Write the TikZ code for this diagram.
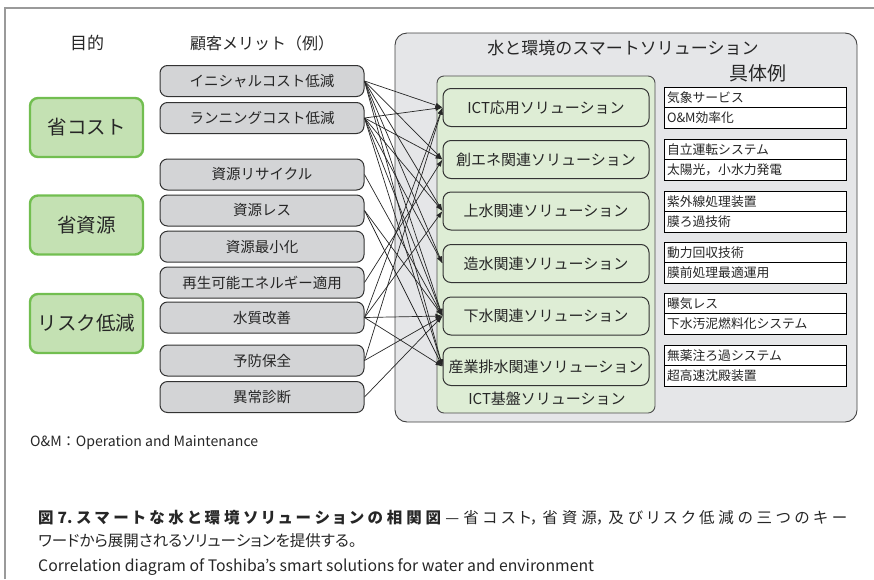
\documentclass[tikz,border=0pt]{standalone}
\usepackage{fontspec}
\setmainfont{Noto Sans CJK JP}
\newfontfamily\capfont{Noto Sans CJK JP}[RawFeature=+palt]
\usetikzlibrary{arrows.meta}
\definecolor{goalgreen}{HTML}{72BE50}
\definecolor{goalfill}{HTML}{C4E1B3}
\definecolor{meritfill}{HTML}{D3D4D6}
\definecolor{bigfill}{HTML}{E5E6E8}
\definecolor{solfill}{HTML}{DEEDD5}
\definecolor{txt}{HTML}{262626}
\definecolor{framegray}{HTML}{9A9A9A}
\tikzset{
  goal/.style={draw=goalgreen, line width=2.4pt, fill=goalfill, rounded corners=8pt,
    minimum width=113pt, minimum height=59pt, inner sep=0pt, text=txt,
    font=\fontsize{19.5}{22}\selectfont},
  merit/.style={draw=black!80, line width=1pt, fill=meritfill, rounded corners=7.5pt,
    minimum width=204pt, minimum height=31pt, inner sep=0pt, text=txt,
    font=\fontsize{14.5}{16}\selectfont},
  sol/.style={draw=black!80, line width=1pt, fill=solfill, rounded corners=8pt,
    minimum width=206pt, minimum height=38pt, inner sep=0pt, text=txt,
    font=\fontsize{15}{17}\selectfont},
  exbox/.style={draw=black, line width=0.9pt, fill=white, minimum width=182pt,
    minimum height=20.5pt, text width=176pt, align=left, inner xsep=3pt, inner ysep=0pt,
    text=txt, font=\fontsize{12.8}{14}\selectfont},
  lbl/.style={inner sep=0pt, text=txt},
  link/.style={draw=black!85, line width=0.7pt, -{Latex[length=7pt,width=5pt]}},
}
\begin{document}
\begin{tikzpicture}[x=1pt,y=-1pt]
\useasboundingbox (0,0) rectangle (874,579);
% frame
\draw[framegray, line width=1.2pt] (5,579) -- (5,8) -- (874,8);
% column headings
\node[lbl, font=\fontsize{17}{19}\selectfont] (hgoal) at (87,43) {目的};
\node[lbl, font=\fontsize{16}{18}\selectfont] (hmerit) at (262,43) {顧客メリット（例）};
% big box and container
\node[draw=black!75, line width=0.9pt, fill=bigfill, rounded corners=12pt,
  minimum width=462pt, minimum height=389pt, inner sep=0pt] (big) at (626,227.5) {};
\node[draw=black!70, line width=0.9pt, fill=solfill, rounded corners=7pt,
  minimum width=218pt, minimum height=337pt, inner sep=0pt] (cont) at (546,244.5) {};
\node[lbl, font=\fontsize{17}{19}\selectfont] (title) at (623,48) {水と環境のスマートソリューション};
\node[lbl, font=\fontsize{19}{21}\selectfont] (gutai) at (758,73) {具体例};
\node[lbl, font=\fontsize{15}{17}\selectfont] (base) at (547,399) {ICT基盤ソリューション};
% goals
\node[goal] (g1) at (86.5,127.5) {省コスト};
\node[goal] (g2) at (86.5,225) {省資源};
\node[goal] (g3) at (86.5,323.5) {リスク低減};
% merits
\node[merit] (b1) at (262,81) {イニシャルコスト低減};
\node[merit] (b2) at (262,118) {ランニングコスト低減};
\node[merit] (b3) at (262,174.5) {資源リサイクル};
\node[merit] (b4) at (262,210.5) {資源レス};
\node[merit] (b5) at (262,246.7) {資源最小化};
\node[merit] (b6) at (262,282.5) {再生可能エネルギー適用};
\node[merit] (b7) at (262,317.5) {水質改善};
\node[merit] (b8) at (262,360.5) {予防保全};
\node[merit] (b9) at (262,397) {異常診断};
% solutions
\node[sol] (s1) at (546,107.5) {ICT応用ソリューション};
\node[sol] (s2) at (546,159.5) {創エネ関連ソリューション};
\node[sol] (s3) at (546,211) {上水関連ソリューション};
\node[sol] (s4) at (546,263.5) {造水関連ソリューション};
\node[sol] (s5) at (546,316) {下水関連ソリューション};
\node[sol] (s6) at (546,366.5) {産業排水関連ソリューション};
% examples
\node[exbox] (e1a) at (755,97.25) {気象サービス};
\node[exbox] (e1b) at (755,117.75) {O\&M効率化};
\node[exbox] (e2a) at (755,149.25) {自立運転システム};
\node[exbox] (e2b) at (755,169.75) {太陽光，小水力発電};
\node[exbox] (e3a) at (755,201.25) {紫外線処理装置};
\node[exbox] (e3b) at (755,221.75) {膜ろ過技術};
\node[exbox] (e4a) at (755,252.25) {動力回収技術};
\node[exbox] (e4b) at (755,272.75) {膜前処理最適運用};
\node[exbox] (e5a) at (755,303.25) {曝気レス};
\node[exbox] (e5b) at (755,323.75) {下水汚泥燃料化システム};
\node[exbox] (e6a) at (755,355.25) {無薬注ろ過システム};
\node[exbox] (e6b) at (755,375.75) {超高速沈殿装置};
% links
\foreach \a/\b in {b1/s1,b1/s2,b1/s3,b1/s4,b1/s5,b1/s6,
                   b2/s1,b2/s2,b2/s3,b2/s4,b2/s5,b2/s6,
                   b3/s5,b4/s5,b4/s6,b6/s2,
                   b7/s3,b7/s5,b7/s6,b7/s1,
                   b8/s1,b8/s5,b9/s5}
  \draw[link] (\a.east) -- (\b.west);
% captions
\node[lbl, anchor=west, font=\fontsize{14.1}{16}\selectfont] (om) at (30,442) {O\&M：Operation and Maintenance};
\node[lbl, anchor=north west, text width=809pt, align=justify,
  font=\capfont\fontsize{15.5}{23}\selectfont] (cap) at (38,510.5)
  {\XeTeXlinebreaklocale "ja"\XeTeXlinebreakskip=0pt plus 10pt\relax
   {\bfseries 図7.\ スマートな水と環境ソリューションの相関図} — 省コスト，省資源，及びリスク低減の三つのキー\linebreak
   ワードから展開されるソリューションを提供する。};
\node[lbl, anchor=west, font=\fontsize{15.8}{18}\selectfont] (cap3) at (38,567) {Correlation diagram of Toshiba's smart solutions for water and environment};
\end{tikzpicture}
\end{document}
